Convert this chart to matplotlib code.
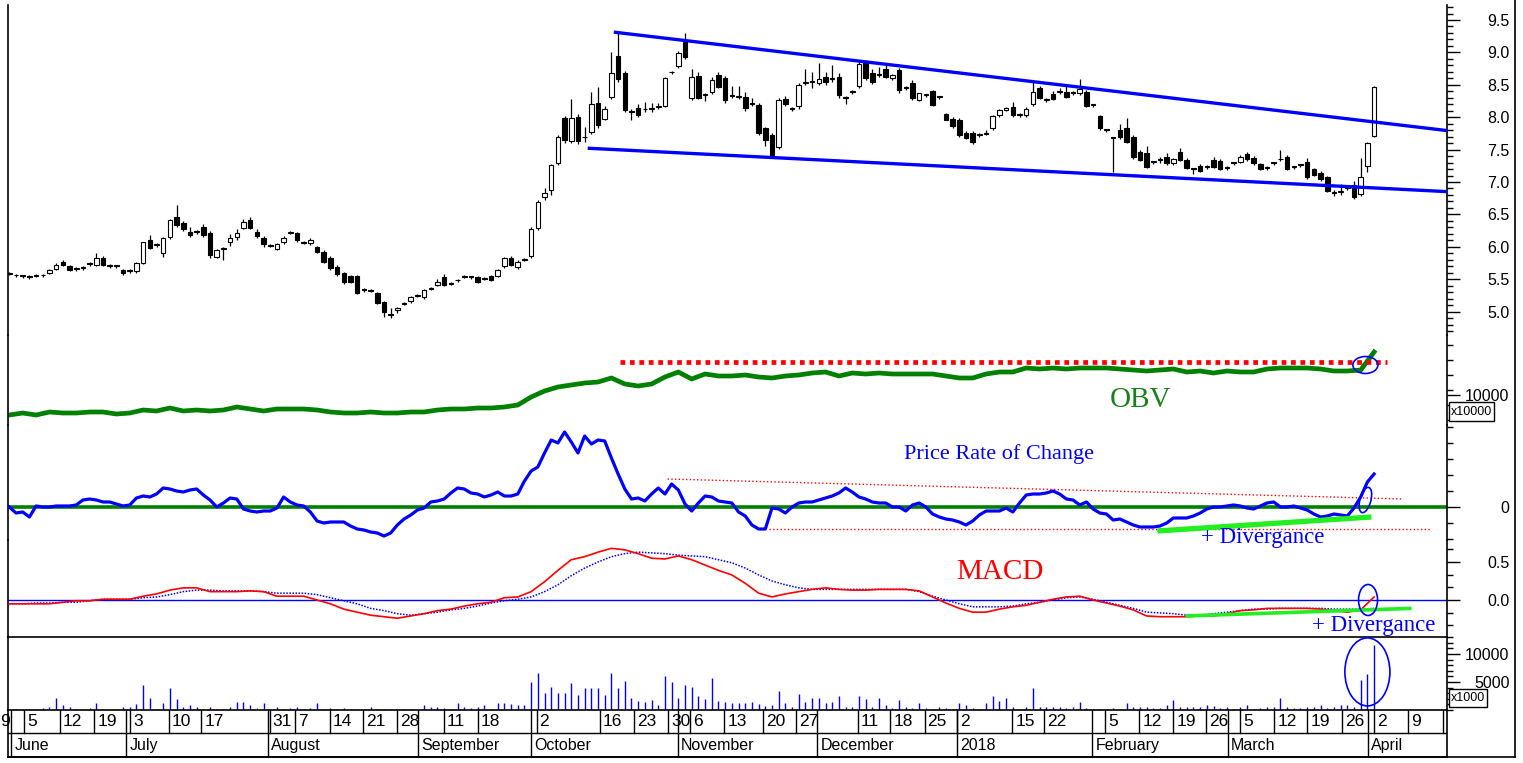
import matplotlib
matplotlib.use("Agg")
import matplotlib.pyplot as plt
import numpy as np
from matplotlib import font_manager
from matplotlib.patches import Ellipse, Rectangle
from matplotlib.lines import Line2D
from matplotlib.transforms import ScaledTranslation
from matplotlib.ticker import MultipleLocator

# ---------------- DATA ----------------
open_ = [5.58,5.57,5.55,5.55,5.55,5.56,5.60,5.66,5.77,5.70,
         5.66,5.67,5.74,5.72,5.83,5.71,5.70,5.64,5.63,5.63,
         5.75,6.10,6.03,5.90,6.15,6.46,6.37,6.23,6.23,6.30,
         6.21,5.85,5.97,6.07,6.15,6.29,6.41,6.23,6.13,6.02,
         5.97,6.07,6.22,6.21,6.07,6.06,5.99,5.92,5.83,5.69,
         5.59,5.55,5.55,5.34,5.33,5.29,5.15,4.96,5.02,5.12,
         5.16,5.24,5.22,5.35,5.41,5.53,5.43,5.48,5.54,5.53,
         5.53,5.51,5.55,5.55,5.70,5.83,5.69,5.80,5.86,6.29,
         6.77,6.88,7.29,7.99,7.63,8.01,7.70,7.77,8.22,7.97,
         8.31,8.94,8.68,8.09,8.14,8.12,8.13,8.16,8.17,8.69,
         8.79,9.16,8.30,8.64,8.34,8.39,8.65,8.60,8.33,8.31,
         8.31,8.20,8.19,7.83,7.73,7.54,8.28,8.13,8.17,8.53,
         8.54,8.53,8.62,8.59,8.62,8.30,8.39,8.48,8.84,8.68,
         8.65,8.74,8.60,8.73,8.45,8.53,8.27,8.34,8.40,8.31,
         8.05,7.97,7.96,7.76,7.76,7.73,7.74,7.83,8.03,8.11,
         8.16,8.03,8.03,8.20,8.45,8.27,8.36,8.39,8.39,8.37,
         8.37,8.39,8.19,8.02,7.80,7.68,7.80,7.83,7.69,7.46,
         7.45,7.31,7.34,7.39,7.29,7.46,7.34,7.20,7.25,7.23,
         7.34,7.32,7.22,7.29,7.31,7.43,7.37,7.28,7.22,7.29,
         7.35,7.39,7.23,7.26,7.31,7.20,7.14,7.08,6.83,6.85,
         6.91,6.95,6.81,7.25,7.71]
high = [5.61,5.58,5.57,5.57,5.58,5.58,5.66,5.75,5.80,5.72,
        5.69,5.70,5.77,5.90,5.86,5.73,5.72,5.66,5.66,5.76,
        6.08,6.18,6.06,6.15,6.43,6.65,6.40,6.30,6.26,6.35,
        6.24,5.97,6.00,6.20,6.28,6.43,6.46,6.28,6.17,6.04,
        6.06,6.16,6.25,6.23,6.09,6.13,6.02,5.95,5.86,5.72,
        5.61,5.57,5.57,5.36,5.35,5.31,5.17,5.06,5.07,5.15,
        5.24,5.27,5.35,5.38,5.50,5.58,5.45,5.51,5.57,5.55,
        5.55,5.54,5.57,5.66,5.85,5.86,5.79,5.83,6.30,6.72,
        6.90,7.28,7.72,8.02,8.28,8.05,7.85,8.39,8.47,8.17,
        9.01,9.31,8.72,8.12,8.20,8.24,8.22,8.22,8.62,8.72,
        9.02,9.30,8.75,8.70,8.37,8.62,8.70,8.63,8.48,8.48,
        8.39,8.30,8.22,7.85,7.75,8.30,8.33,8.15,8.53,8.75,
        8.70,8.83,8.70,8.80,8.68,8.33,8.42,8.88,8.89,8.75,
        8.78,8.80,8.67,8.76,8.48,8.57,8.38,8.36,8.42,8.33,
        8.07,8.00,7.98,7.78,7.78,7.75,7.80,8.03,8.12,8.15,
        8.24,8.06,8.15,8.57,8.48,8.30,8.40,8.45,8.50,8.40,
        8.59,8.42,8.21,8.04,7.82,7.70,7.90,7.99,7.72,7.50,
        7.55,7.33,7.38,7.45,7.37,7.52,7.37,7.22,7.28,7.26,
        7.38,7.35,7.24,7.31,7.42,7.47,7.40,7.30,7.24,7.31,
        7.49,7.42,7.25,7.28,7.37,7.22,7.17,7.10,6.87,6.97,
        6.94,7.01,7.37,7.62,8.48]
low = [5.56,5.53,5.52,5.50,5.53,5.54,5.58,5.64,5.70,5.62,
       5.63,5.64,5.71,5.70,5.70,5.68,5.67,5.57,5.60,5.60,
       5.73,5.96,6.00,5.85,6.12,6.30,6.25,6.15,6.20,6.15,
       5.82,5.83,5.80,6.02,6.10,6.27,6.27,6.14,6.00,5.99,
       5.95,6.05,6.20,6.08,6.04,6.03,5.90,5.75,5.64,5.55,
       5.43,5.44,5.27,5.31,5.30,5.11,4.92,4.90,4.98,5.10,
       5.14,5.22,5.20,5.33,5.39,5.39,5.41,5.46,5.52,5.51,
       5.44,5.49,5.47,5.53,5.68,5.70,5.66,5.78,5.83,6.26,
       6.72,6.80,7.26,7.60,7.60,7.58,7.62,7.74,7.84,7.95,
       8.28,8.55,8.08,7.96,8.00,8.08,8.08,8.12,8.15,8.67,
       8.76,8.90,8.27,8.28,8.25,8.36,8.45,8.22,8.30,8.28,
       8.10,8.17,7.72,7.55,7.40,7.51,8.18,8.09,8.13,8.50,
       8.45,8.50,8.50,8.55,8.30,8.20,8.36,8.45,8.58,8.52,
       8.62,8.60,8.57,8.38,8.42,8.26,8.25,8.31,8.17,8.28,
       7.95,7.84,7.70,7.66,7.58,7.70,7.72,7.80,8.01,8.09,
       8.00,8.00,8.01,8.17,8.28,8.24,8.26,8.36,8.29,8.34,
       8.35,8.15,8.15,7.81,7.77,7.15,7.67,7.60,7.36,7.32,
       7.21,7.28,7.30,7.27,7.27,7.32,7.20,7.12,7.15,7.20,
       7.21,7.18,7.18,7.26,7.29,7.33,7.27,7.18,7.19,7.26,
       7.32,7.18,7.20,7.23,7.05,7.09,7.02,6.84,6.78,6.80,
       6.88,6.74,6.79,7.15,7.70]
close = [5.58,5.56,5.55,5.54,5.56,5.57,5.64,5.72,5.72,5.64,
         5.67,5.67,5.75,5.83,5.72,5.70,5.70,5.60,5.64,5.75,
         6.07,5.98,6.04,6.14,6.41,6.34,6.28,6.18,6.24,6.18,
         5.87,5.95,5.98,6.13,6.21,6.38,6.29,6.17,6.04,6.01,
         6.04,6.13,6.23,6.10,6.06,6.10,5.92,5.77,5.67,5.58,
         5.46,5.46,5.29,5.33,5.32,5.13,4.99,4.95,5.06,5.13,
         5.22,5.25,5.33,5.36,5.46,5.41,5.43,5.49,5.55,5.53,
         5.46,5.52,5.49,5.64,5.83,5.72,5.77,5.81,6.27,6.69,
         6.83,7.26,7.69,7.65,7.99,7.63,7.69,8.20,7.88,8.13,
         8.68,8.59,8.11,8.08,8.03,8.13,8.13,8.17,8.60,8.70,
         8.99,8.93,8.62,8.30,8.34,8.57,8.47,8.27,8.33,8.31,
         8.14,8.20,7.76,7.65,7.42,8.27,8.20,8.13,8.50,8.53,
         8.54,8.59,8.54,8.59,8.34,8.30,8.39,8.82,8.60,8.54,
         8.65,8.62,8.65,8.42,8.45,8.30,8.37,8.34,8.19,8.31,
         7.96,7.86,7.73,7.68,7.62,7.73,7.74,8.02,8.11,8.14,
         8.03,8.03,8.13,8.39,8.30,8.27,8.28,8.39,8.31,8.37,
         8.44,8.17,8.19,7.83,7.80,7.68,7.69,7.62,7.39,7.34,
         7.23,7.31,7.34,7.29,7.35,7.34,7.22,7.20,7.17,7.23,
         7.23,7.20,7.22,7.29,7.39,7.35,7.29,7.20,7.22,7.29,
         7.35,7.20,7.23,7.26,7.08,7.11,7.05,6.86,6.83,6.85,
         6.91,6.77,7.08,7.60,8.47]

# volume, x1000 shares
volume = [120,120,120,120,120,300,600,2080,890,600,
          120,50,420,1190,120,50,120,600,600,1070,
          4460,2080,120,1190,3990,1960,600,890,480,120,
          600,120,120,600,1490,1490,890,420,1190,50,
          600,120,420,600,120,420,1190,120,300,120,
          420,120,50,50,600,120,120,120,120,120,
          120,50,890,600,600,420,120,1190,600,300,
          600,890,120,1190,1190,1010,890,890,5060,6660,
          3090,4170,3090,3090,4760,2680,3870,3870,3870,2680,
          6660,3870,5180,2200,1670,1490,1790,890,6070,5060,
          2080,4460,4170,2500,1900,5770,1670,1490,1190,1190,
          1190,1490,1010,710,890,3390,1190,600,2800,1490,
          2080,2200,1190,1490,2560,600,600,2560,1960,600,
          2080,890,420,1790,600,420,1190,420,120,600,
          420,120,1190,890,300,120,1190,2560,1610,2080,
          600,120,600,3870,480,480,480,480,300,600,
          1490,420,120,120,120,300,120,1190,480,600,
          600,420,300,890,1790,480,600,480,600,890,
          710,420,600,120,480,890,120,300,600,600,
          2080,600,300,420,600,600,890,420,600,890,
          890,480,5360,6370,11600]

# Price rate of change (%), one value per day
roc = [0,-1.5,-1.25,-2.5,0.25,0,0,0.25,0.25,0.25,
       0.5,1.75,2,1.75,1.25,1.25,0.75,0.25,0.5,2.25,
       2.75,2.5,3.25,4.75,4.5,4,3.75,4.25,4.5,3,
       1.75,0,1,2.25,2,-0.5,-1,-1.25,-1,-1,
       -0.25,2.5,1.25,0.5,0.25,-1.25,-3.5,-4,-3.75,-3.75,
       -3.75,-4.75,-5.5,-5.75,-6.25,-6.5,-7.25,-6.5,-4.5,-3,
       -2,-0.75,-0.25,1.25,1.5,2,3.5,4.75,4.5,3.5,
       3.25,2.5,3,3.75,2.75,2.75,3.25,6.5,9,10,
       13.5,16.75,16,18.75,16.25,13.5,17.75,15.75,16.75,16.5,
       12.25,8.25,4.5,2,2.25,1.5,3.25,4.75,3.25,5.75,
       4.25,0.75,-1,1,2.75,2.5,1.5,1.25,1,-1.25,
       -2.25,-4.5,-5.5,-5.5,-0.25,-0.5,-1.5,0,1,1.25,
       1.25,1.75,2.25,2.75,3.5,4.75,3.75,2.5,2,1.25,
       1,1,0,0,-1,0.5,1,0,-1.75,-2.5,
       -3,-3.25,-3.75,-4.5,-3.5,-2,-1,-1,-1,-0.25,
       -1.25,1,3,3.25,3.25,3.5,4,3.25,2,1.75,
       0.5,1.25,-0.5,-1.5,-1.75,-3.25,-3,-3.75,-4.5,-5,
       -5,-5,-4.75,-4,-2.75,-2.75,-2.75,-2.25,-1.5,-0.5,
       0,0,0.25,0.5,0.25,-0.25,-0.5,0.25,1,1.25,
       0,0,0.25,-0.25,-0.75,-1.75,-2.5,-2.25,-1.75,-2,
       -2.25,-0.25,2.5,6.25,8.25]

# OBV (x10000), MACD and signal, read every second day
ind_day = list(range(0, 205, 2))
obv = [8000,8200,8000,8300,8200,8200,8300,8300,8100,8200,
       8500,8400,8700,8400,8500,8400,8500,8800,8600,8400,
       8600,8600,8600,8500,8300,8200,8200,8300,8200,8200,
       8300,8300,8500,8600,8600,8700,8700,8800,9000,9800,
       10400,10800,11000,11200,11300,11700,11100,10900,11100,11800,
       12300,11600,12100,11900,11900,12000,11800,11700,11900,12000,
       12200,12300,11900,12200,12100,12200,12100,12100,12100,12100,
       11900,11700,11700,12100,12300,12300,12700,12600,12700,12600,
       12700,12700,12700,12600,12500,12400,12500,12600,12300,12400,
       12200,12400,12300,12300,12600,12700,12700,12700,12600,12400,
       12400,12500,14300]
macd = [-0.05,-0.05,-0.05,-0.05,-0.03,-0.01,-0.01,0.01,0.01,0.01,
        0.05,0.08,0.13,0.16,0.16,0.11,0.11,0.11,0.12,0.11,
        0.05,0.05,0.05,0.00,-0.05,-0.12,-0.16,-0.20,-0.22,-0.24,
        -0.21,-0.18,-0.14,-0.12,-0.08,-0.05,-0.03,0.03,0.04,0.11,
        0.24,0.39,0.53,0.57,0.63,0.68,0.66,0.61,0.55,0.54,
        0.58,0.53,0.46,0.39,0.33,0.22,0.09,0.04,0.08,0.11,
        0.14,0.16,0.14,0.13,0.13,0.14,0.14,0.14,0.12,0.04,
        -0.04,-0.11,-0.16,-0.16,-0.12,-0.09,-0.07,-0.03,0.01,0.04,
        0.05,0.00,-0.04,-0.08,-0.13,-0.21,-0.22,-0.22,-0.22,-0.21,
        -0.21,-0.18,-0.14,-0.13,-0.11,-0.11,-0.11,-0.11,-0.12,-0.14,
        -0.16,-0.13,0.04]
signal = [-0.05,-0.05,-0.04,-0.04,-0.03,-0.03,-0.01,0.01,0.01,0.01,
          0.03,0.04,0.07,0.11,0.13,0.13,0.12,0.12,0.12,0.11,
          0.09,0.09,0.09,0.07,0.03,-0.01,-0.05,-0.11,-0.14,-0.18,
          -0.20,-0.18,-0.16,-0.13,-0.11,-0.08,-0.04,-0.01,0.01,0.04,
          0.11,0.20,0.32,0.42,0.50,0.57,0.61,0.63,0.62,0.61,
          0.59,0.58,0.57,0.53,0.49,0.42,0.33,0.25,0.20,0.16,
          0.14,0.14,0.14,0.14,0.14,0.14,0.14,0.14,0.11,0.05,
          0.00,-0.05,-0.09,-0.09,-0.09,-0.08,-0.05,-0.03,0.00,0.03,
          0.04,0.01,-0.03,-0.07,-0.11,-0.16,-0.17,-0.18,-0.20,-0.20,
          -0.18,-0.16,-0.14,-0.12,-0.12,-0.11,-0.11,-0.11,-0.11,-0.12,
          -0.12,-0.12,-0.11]

# drawn trend lines / annotations (day index, value)
upper_trend_day, upper_trend_price = [90.6, 215.2], [9.31, 7.79]
lower_trend_day, lower_trend_price = [86.7, 215.2], [7.52, 6.85]
obv_resist_day, obv_resist_val = [91.3, 206.0], [13300, 13300]
roc_upper_day, roc_upper_val = [98.4, 208.4], [7.0, 2.0]
roc_lower_day, roc_lower_val = [113.6, 212.3], [-5.5, -5.5]
roc_div_day, roc_div_val = [171.6, 203.6], [-6.0, -2.5]
macd_div_day, macd_div_val = [175.8, 209.6], [-0.21, -0.11]

# date axis (first label is the tail of "29" May, cut by the chart edge)
week_tick_day = [-1.85, 2.2, 7.5, 12.7, 18.1, 23.8, 28.7, 38.9, 42.7, 47.9, 52.9, 58.0,
                 64.9, 70.0, 78.8, 88.3, 93.4, 98.5, 101.8, 106.9, 112.6, 117.6,
                 126.8, 131.7, 136.8, 141.7, 149.9, 154.7, 163.8, 168.9, 174.0, 178.9,
                 184.0, 189.1, 194.0, 199.2, 204.0, 209.1, 214.3]
week_tick_label = ["9", "5", "12", "19", "3", "10", "17", "31", "7", "14", "21", "28",
                   "11", "18", "2", "16", "23", "30", "6", "13", "20", "27",
                   "11", "18", "25", "2", "15", "22", "5", "12", "19", "26",
                   "5", "12", "19", "26", "2", "9", "16"]
month_start_day = [0.3, 17.5, 38.7, 61.1, 78.0, 99.9, 120.8, 141.7, 161.9, 182.1, 203.1]
month_label = ["June", "July", "August", "September", "October", "November",
               "December", "2018", "February", "March", "April"]

# ---------------- FIGURE ----------------
avail = {f.name for f in font_manager.fontManager.ttflist}
SANS = "Liberation Sans"
NARROW = "Liberation Sans Narrow" if "Liberation Sans Narrow" in avail else "Liberation Sans"
SERIF = "Liberation Serif"
plt.rcParams["font.family"] = [SANS, "DejaVu Sans"]
WEEK_FS = 13.5 if NARROW != SANS else 12.5
MONTH_FS = 13 if NARROW != SANS else 11.5

W, H = 1523, 763
fig = plt.figure(figsize=(W / 100, H / 100), dpi=100)
fig.patch.set_facecolor("white")
XMIN, XMAX = -0.2, 214.9
L, R = 8, 1447


def px_axes(y0, y1):
    return fig.add_axes([L / W, 1 - y1 / H, (R - L) / W, (y1 - y0) / H])


def style(ax, ylim, top=False, bottom=False):
    ax.set_xlim(XMIN, XMAX)
    ax.set_ylim(*ylim)
    ax.spines["top"].set_visible(top)
    ax.spines["bottom"].set_visible(bottom)
    for s in ax.spines.values():
        s.set_linewidth(1.2)
    ax.xaxis.set_visible(False)
    ax.yaxis.tick_right()
    ax.tick_params(axis="y", which="major", direction="out", length=9, width=1,
                   pad=36, labelsize=11.5)
    ax.tick_params(axis="y", which="minor", direction="out", length=4, width=1)
    ax.patch.set_alpha(0)


def set_ticks(ax, ticks, labels):
    ax.set_yticks(ticks)
    ax.set_yticklabels(labels, ha="right", fontfamily=SANS)


def px_ellipse(ax, x, y, w_px, h_px, angle=0, lw=1.2):
    tr = fig.dpi_scale_trans + ScaledTranslation(x, y, ax.transData)
    e = Ellipse((0, 0), w_px / 100, h_px / 100, angle=angle, transform=tr,
                fill=False, edgecolor="#0000ff", lw=lw, clip_on=False, zorder=20)
    fig.add_artist(e)


days = np.arange(len(close))
o = np.array(open_); c = np.array(close); h = np.array(high); lo = np.array(low)

# --- price panel
ax_p = px_axes(5, 335)
style(ax_p, (9.5 - 315 / 64.8, 9.5 + 15 / 64.8))
set_ticks(ax_p, np.arange(5.0, 9.51, 0.5), ["%.1f" % v for v in np.arange(5.0, 9.51, 0.5)])
ax_p.yaxis.set_minor_locator(MultipleLocator(0.1))
ax_p.vlines(days, lo, h, color="black", lw=0.9, zorder=2)
up = c >= o
ax_p.bar(days, np.maximum(np.abs(c - o), 0.012), 0.68, bottom=np.minimum(o, c),
         color=np.where(up, "white", "black"), edgecolor="black", lw=0.8, zorder=3)
ax_p.plot(upper_trend_day, upper_trend_price, color="#0000ff", lw=2.4, zorder=4)
ax_p.plot(lower_trend_day, lower_trend_price, color="#0000ff", lw=2.4, zorder=4)

# --- OBV panel
ax_o = px_axes(335, 425)
style(ax_o, (7000, 16000))
set_ticks(ax_o, [10000], ["10000"])
ax_o.yaxis.set_minor_locator(MultipleLocator(1500))
ax_o.plot(ind_day, obv, color="#008000", lw=3.4, solid_joinstyle="round")
ax_o.plot(obv_resist_day, obv_resist_val, color="#ff0000", lw=3.4,
          linestyle=(0, (1, 1)), dash_capstyle="butt", clip_on=False)
ax_o.text(169.1, 9500, "OBV", color="#1a801a", fontsize=21, fontfamily=SERIF,
          ha="center", va="center")
px_ellipse(ax_o, 202.7, 13000, 25, 17)

# --- ROC panel
ax_r = px_axes(425, 540)
style(ax_r, (-8.25, 20.5))
set_ticks(ax_r, [0], ["0"])
ax_r.yaxis.set_minor_locator(MultipleLocator(4))
ax_r.axhline(0, color="#008000", lw=2.6, zorder=2)
ax_r.plot(days, roc, color="#0000ff", lw=2.3, zorder=3, solid_joinstyle="round")
ax_r.plot(roc_upper_day, roc_upper_val, color="#ff0000", lw=1.0, linestyle=":")
ax_r.plot(roc_lower_day, roc_lower_val, color="#ff0000", lw=1.0, linestyle=":")
ax_r.plot(roc_div_day, roc_div_val, color="#22ee22", lw=3.8, zorder=4,
          solid_capstyle="butt")
ax_r.text(148.0, 13.25, "Price Rate of Change", color="#0000ff", fontsize=16,
          fontfamily=SERIF, ha="center", va="center")
ax_r.text(187.3, -7.75, "+ Divergance", color="#0000ff", fontsize=16.5,
          fontfamily=SERIF, ha="center", va="center", clip_on=False, zorder=6)
px_ellipse(ax_r, 202.7, 1.75, 11, 26, angle=-15)

# --- MACD panel
ax_m = px_axes(540, 637)
style(ax_m, (-37 / 76, 60 / 76))
set_ticks(ax_m, [0.0, 0.5], ["0.0", "0.5"])
ax_m.yaxis.set_minor_locator(MultipleLocator(0.5 / 3))
ax_m.axhline(0, color="#0000ff", lw=1.0, zorder=2)
ax_m.plot(ind_day, signal, color="#0000ff", lw=1.1, linestyle=(0, (1, 1)), zorder=3)
ax_m.plot(ind_day, macd, color="#ff0000", lw=1.2, zorder=4)
ax_m.plot(macd_div_day, macd_div_val, color="#22ee22", lw=2.6, zorder=5,
          solid_capstyle="butt")
ax_m.text(148.1, 0.37, "MACD", color="#ff0000", fontsize=21, fontfamily=SERIF,
          ha="center", va="center")
ax_m.text(203.9, -0.34, "+ Divergance", color="#0000ff", fontsize=16.5,
          fontfamily=SERIF, ha="center", va="center", clip_on=False, zorder=6)
px_ellipse(ax_m, 203.1, 0.0, 19, 31)

# --- Volume panel
ax_v = px_axes(637, 710)
style(ax_v, (0, 73 * 5000 / 28), top=True)
set_ticks(ax_v, [5000, 10000], ["5000", "10000"])
ax_v.yaxis.set_minor_locator(MultipleLocator(1000))
ax_v.vlines(days, 0, np.array(volume) * 1.0, color="#0000ff", lw=1.0)
px_ellipse(ax_v, 203.0, 6800, 45, 68)

# --- date axis
ax_d = px_axes(710, 757)
ax_d.set_xlim(XMIN, XMAX); ax_d.set_ylim(0, 1)
ax_d.set_xticks([]); ax_d.set_yticks([])
for s in ax_d.spines.values():
    s.set_linewidth(1.2)
ax_d.patch.set_alpha(0)
SPLIT = 0.51
ax_d.axhline(SPLIT, color="black", lw=1.0)
for d in week_tick_day:
    ax_d.plot([d, d], [SPLIT, 1], color="black", lw=1.0)
for d in month_start_day:
    ax_d.plot([d, d], [0, 1], color="black", lw=1.0)
for i, (d, lab) in enumerate(zip(week_tick_day, week_tick_label)):
    ax_d.text(d + 0.45, 0.745, lab, ha="left", va="center", fontsize=WEEK_FS,
              fontfamily=NARROW, clip_on=(i != 0))
for d, lab in zip(month_start_day, month_label):
    ax_d.text(d + 0.45, 0.245, lab, ha="left", va="center", fontsize=MONTH_FS,
              fontfamily=NARROW, clip_on=True)

# multiplier boxes
for (y0, y1, x1, txt) in [(402, 421, 1494, "x10000"), (689, 707, 1487, "x1000")]:
    fig.add_artist(Rectangle((1449 / W, 1 - y1 / H), (x1 - 1449) / W, (y1 - y0) / H,
                             transform=fig.transFigure, facecolor="white",
                             edgecolor="black", lw=1.0, zorder=30))
    fig.text((1449 + x1) / 2 / W, 1 - (y0 + y1) / 2 / H, txt, ha="center", va="center",
             fontsize=9, fontfamily=SANS, zorder=31)

# outer frame
fig.add_artist(Line2D([1515 / W, 1515 / W], [1 - 757 / H, 1.0], transform=fig.transFigure,
                      color="black", lw=1.2))
fig.add_artist(Line2D([L / W, 1515 / W], [1 - 757 / H, 1 - 757 / H],
                      transform=fig.transFigure, color="black", lw=1.2))

fig.savefig("out.png", dpi=100, facecolor="white")
